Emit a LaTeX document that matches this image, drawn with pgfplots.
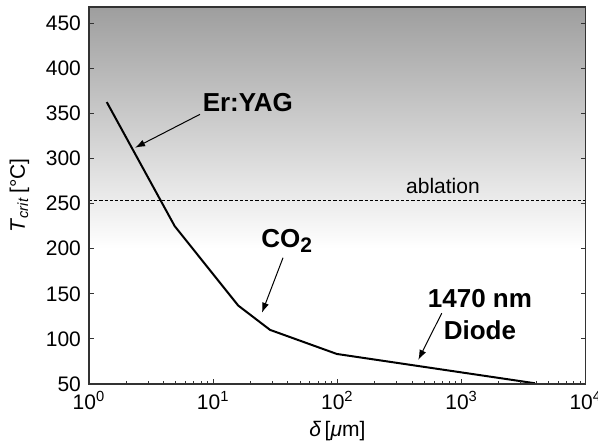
\documentclass[border=0pt]{standalone}
\usepackage{fontspec}
\setmainfont{Liberation Sans}
\usepackage{pgfplots}
\pgfplotsset{compat=1.18}
\usetikzlibrary{arrows.meta}
\begin{document}
\begin{tikzpicture}
\begin{axis}[
  scale only axis, width=248.4pt, height=188.5pt,
  xmode=log, xmin=1, xmax=10000, ymin=50, ymax=468,
  xtick={1,10,100,1000,10000},
  xticklabels={10\textsuperscript{0},10\textsuperscript{1},10\textsuperscript{2},10\textsuperscript{3},10\textsuperscript{4}},
  minor xtick={2,3,4,5,6,7,8,9,20,30,40,50,60,70,80,90,200,300,400,500,600,700,800,900,2000,3000,4000,5000,6000,7000,8000,9000},
  ytick={50,100,...,450},
  tick align=inside,
  xtick pos=left, ytick pos=both,
  major tick length=2.5pt, minor tick length=1.5pt,
  axis line style={black!80, line width=0.6pt},
  every tick/.style={black!80, line width=0.5pt},
  tick label style={font=\fontsize{10.5}{11}\selectfont},
  yticklabel style={xshift=-0.5pt},
  /pgf/number format/assume math mode=true,
  axis on top,
  xlabel={\textit{δ}\,[\textit{μ}m]},
  ylabel={\textit{T}\textsubscript{\textit{crit}}\,[°C]},
  label style={font=\fontsize{10.5}{11}\selectfont},
  xlabel style={at={(axis description cs:0.5,-0.125)}, anchor=center},
  ylabel style={at={(axis description cs:-0.14,0.5)}, anchor=center},
]
\fill[top color=black!38, bottom color=white] (axis cs:1,200) rectangle (axis cs:10000,468);
\addplot[black, dash pattern=on 1.6pt off 1pt, line width=0.5pt] coordinates {(1,254) (10000,254)};
\addplot[black, line width=1pt] coordinates {(1.39,362.6) (4.9,225) (15.9,137) (28.7,110) (99,83.3) (3900,50.8)};
\draw[-{Latex[length=5pt,width=3.5pt]}, line width=0.5pt] (axis cs:7.83,349) -- (axis cs:2.35,312);
\draw[-{Latex[length=5pt,width=3.5pt]}, line width=0.5pt] (axis cs:36.5,190) -- (axis cs:24.7,129);
\draw[-{Latex[length=5pt,width=3.5pt]}, line width=0.5pt] (axis cs:692,128.5) -- (axis cs:448,76.7);
\node[font=\bfseries\fontsize{13}{14}\selectfont] at (axis cs:19,362) {Er:YAG};
\node[font=\bfseries\fontsize{13}{14}\selectfont] at (axis cs:39,209) {CO\raisebox{-0.35ex}{\fontsize{10.5}{11}\selectfont 2}};
\node[font=\bfseries\fontsize{13}{16}\selectfont, align=center, inner sep=0pt] at (axis cs:1406,126.7) {1470 nm\\Diode};
\node[font=\fontsize{10.5}{11}\selectfont] at (axis cs:708,270) {ablation};
\end{axis}
\pgfresetboundingbox
\path ([shift={(-44.5pt,-31.5pt)}]current axis.south west) rectangle ([shift={(6.1pt,3.5pt)}]current axis.north east);
\end{tikzpicture}
\end{document}
